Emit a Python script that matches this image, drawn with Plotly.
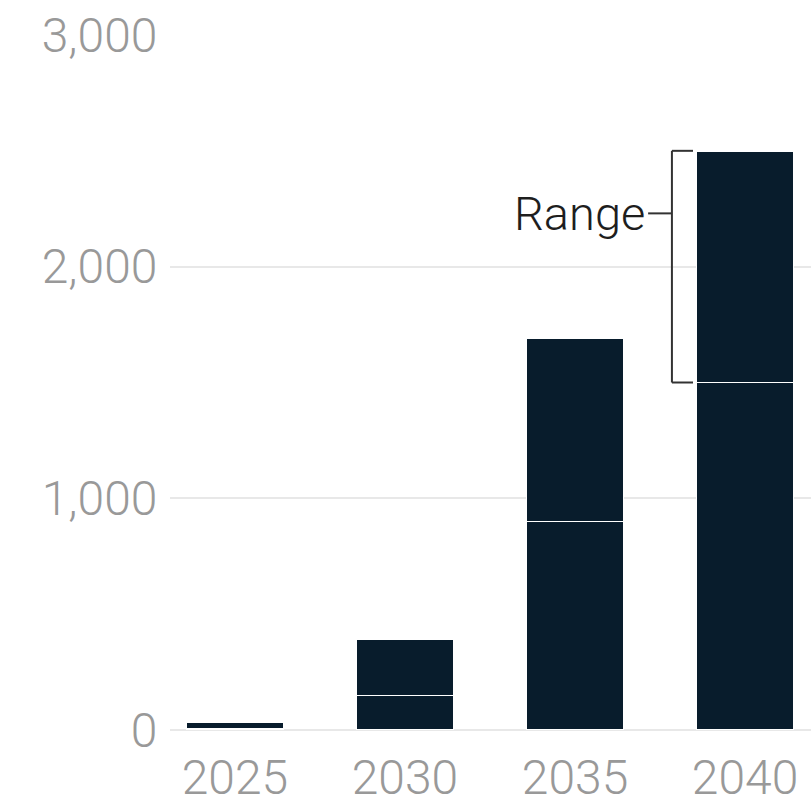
import plotly.graph_objects as go

years = [2025, 2030, 2035, 2040]
low_values = [5, 150, 900, 1500]
high_values = [35, 390, 1690, 2500]
range_values = [h - l for h, l in zip(high_values, low_values)]
y_ticks = [0, 1000, 2000, 3000]
y_tick_labels = ["0", "1,000", "2,000", "3,000"]

bar_color = "#081c2c"
font_family = "Roboto, Liberation Sans, Helvetica Neue, Arial, sans-serif"
tick_font = dict(family=font_family, size=48, color="#999999", weight=300)

fig = go.Figure()
fig.add_trace(go.Bar(x=years, y=low_values, width=2.85, marker=dict(color=bar_color, line=dict(color="white", width=1.5))))
fig.add_trace(go.Bar(x=years, y=range_values, width=2.85, marker=dict(color=bar_color, line=dict(color="white", width=1.5))))

# bracket annotation for the 2040 range
bx = 2037.85
btick = 2038.47
top = high_values[3]
bot = low_values[3]
label_y = 2230
line_style = dict(color="#333333", width=2)
fig.add_shape(type="line", x0=bx, x1=bx, y0=bot, y1=top, line=line_style)
fig.add_shape(type="line", x0=bx, x1=btick, y0=top, y1=top, line=line_style)
fig.add_shape(type="line", x0=bx, x1=btick, y0=bot, y1=bot, line=line_style)
fig.add_shape(type="line", x0=bx - 0.7, x1=bx, y0=label_y, y1=label_y, line=line_style)
fig.add_annotation(x=bx - 0.72, y=label_y, text="Range", showarrow=False, xanchor="right",
                   yanchor="middle", font=dict(family=font_family, size=47, color="#1e1e1e", weight=300))

fig.update_layout(
    barmode="stack",
    showlegend=False,
    width=811, height=806,
    margin=dict(l=170, r=0, t=35, b=76),
    plot_bgcolor="white", paper_bgcolor="white",
    xaxis=dict(range=[2023.09, 2041.94], tickvals=years, ticktext=[str(y) for y in years],
               showgrid=False, zeroline=False, showline=False, automargin=False,
               ticks="outside", ticklen=5, tickcolor="rgba(0,0,0,0)",
               tickfont=tick_font),
    yaxis=dict(range=[0, 3000], tickvals=y_ticks, ticktext=y_tick_labels,
               showgrid=True, gridcolor="#e8e8e8", gridwidth=1.5, automargin=False,
               zeroline=True, zerolinecolor="#e8e8e8", zerolinewidth=1.5, showline=False,
               ticks="outside", ticklen=2, tickcolor="rgba(0,0,0,0)",
               tickfont=tick_font),
)

fig.write_html("out.html")
